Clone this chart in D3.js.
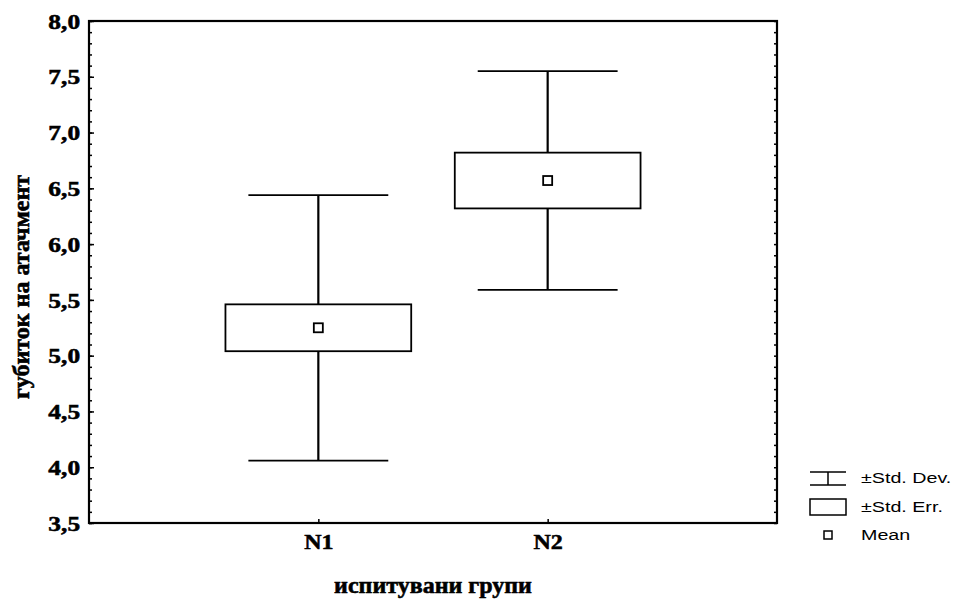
<!DOCTYPE html>
<html>
<head>
<meta charset="utf-8">
<script src="https://cdn.jsdelivr.net/npm/d3@7"></script>
<style>
  html, body { margin: 0; padding: 0; background: #fff; }
  svg { display: block; }
</style>
</head>
<body>
<svg id="chart" width="956" height="599"></svg>
<script>
// ---- data ----
const groups = ["N1", "N2"];
const groupPos = [1, 2];
const means = [5.25, 6.57];
const stdErr = [0.21, 0.25];
const stdDev = [1.19, 0.98];
const yTickValues = [3.5, 4.0, 4.5, 5.0, 5.5, 6.0, 6.5, 7.0, 7.5, 8.0];
const yTitle = "губиток на атачмент";
const xTitle = "испитувани групи";
const legendLabels = ["±Std. Dev.", "±Std. Err.", "Mean"];

// ---- layout ----
const L = 89, R = 777, T = 21, B = 523;
const SX = 1.27; // horizontal stretch of the scanned text
const svg = d3.select("#chart");
const x = d3.scaleLinear().domain([0, 3]).range([L, R]);
const y = d3.scaleLinear().domain([3.5, 8]).range([B, T]);
const fmt = d => d3.format(".1f")(d).replace(".", ",");
const minorVals = d3.range(35, 81).map(v => v / 10);

// minor ticks left (inward)
svg.append("g").attr("transform", `translate(${L},0)`)
  .call(d3.axisLeft(y).tickValues(minorVals).tickSize(-3).tickFormat(""))
  .call(g => g.select(".domain").remove())
  .call(g => g.selectAll("line").attr("stroke", "#000").attr("stroke-width", 1.5));
// minor ticks right (inward)
svg.append("g").attr("transform", `translate(${R},0)`)
  .call(d3.axisLeft(y).tickValues(minorVals).tickSize(3).tickFormat(""))
  .call(g => g.select(".domain").remove())
  .call(g => g.selectAll("line").attr("stroke", "#000").attr("stroke-width", 1.5));

// major left axis
const yAxis = svg.append("g").attr("transform", `translate(${L},0)`)
  .call(d3.axisLeft(y).tickValues(yTickValues).tickSizeInner(-5).tickSizeOuter(0).tickPadding(7).tickFormat(fmt));
yAxis.select(".domain").remove();
yAxis.selectAll("line").attr("stroke", "#000").attr("stroke-width", 1.5);
yAxis.selectAll("text")
  .attr("font-family", "'Liberation Serif', 'Times New Roman', serif")
  .attr("font-weight", "bold").attr("font-size", 20).attr("fill", "#000")
  .attr("stroke", "#000").attr("stroke-width", 0.5)
  .attr("dy", "0.36em")
  .attr("transform", `scale(${SX},1)`);

// bottom axis
const xAxis = svg.append("g").attr("transform", `translate(0,${B})`)
  .call(d3.axisBottom(x).tickValues(groupPos).tickSizeInner(-4).tickSizeOuter(0).tickPadding(12)
    .tickFormat((d, i) => groups[i]));
xAxis.select(".domain").remove();
xAxis.selectAll("line").attr("stroke", "#000").attr("stroke-width", 1.5);
xAxis.selectAll("text")
  .attr("font-family", "'Liberation Serif', 'Times New Roman', serif")
  .attr("font-weight", "bold").attr("font-size", 20).attr("fill", "#000")
  .attr("stroke", "#000").attr("stroke-width", 0.5)
  .attr("transform", `scale(1.2,1)`);

// frame
svg.append("rect").attr("x", L).attr("y", T).attr("width", R - L).attr("height", B - T)
  .attr("fill", "none").attr("stroke", "#000").attr("stroke-width", 2.2);

// boxes
const capHalf = 0.305, boxHalf = 0.405;
const gBox = svg.append("g");
groups.forEach((g, i) => {
  const cx = x(groupPos[i]);
  const m = means[i], se = stdErr[i], sd = stdDev[i];
  gBox.append("line").attr("x1", cx).attr("x2", cx).attr("y1", y(m + sd)).attr("y2", y(m - sd))
    .attr("stroke", "#000").attr("stroke-width", 2.2);
  [m + sd, m - sd].forEach(v => {
    gBox.append("line").attr("x1", x(groupPos[i] - capHalf)).attr("x2", x(groupPos[i] + capHalf))
      .attr("y1", y(v)).attr("y2", y(v)).attr("stroke", "#000").attr("stroke-width", 1.8);
  });
  gBox.append("rect").attr("x", x(groupPos[i] - boxHalf)).attr("y", y(m + se))
    .attr("width", x(groupPos[i] + boxHalf) - x(groupPos[i] - boxHalf))
    .attr("height", y(m - se) - y(m + se))
    .attr("fill", "#fff").attr("stroke", "#000").attr("stroke-width", 1.8);
  gBox.append("rect").attr("x", cx - 4.5).attr("y", y(m) - 4.5).attr("width", 9).attr("height", 9)
    .attr("fill", "#fff").attr("stroke", "#000").attr("stroke-width", 1.8);
});

// axis titles
svg.append("text")
  .attr("transform", `translate(29,287) rotate(-90)`)
  .attr("text-anchor", "middle")
  .attr("font-family", "'Liberation Serif', 'Times New Roman', serif")
  .attr("font-weight", "bold").attr("font-size", 24).attr("fill", "#000")
  .attr("stroke", "#000").attr("stroke-width", 0.6)
  .text(yTitle);
svg.append("text")
  .attr("transform", `translate(433,593)`)
  .attr("text-anchor", "middle")
  .attr("font-family", "'Liberation Serif', 'Times New Roman', serif")
  .attr("font-weight", "bold").attr("font-size", 24).attr("fill", "#000")
  .attr("stroke", "#000").attr("stroke-width", 0.6)
  .text(xTitle);

// legend
const lg = svg.append("g");
const lx0 = 810, lx1 = 846;
const rowsY = [478, 507, 535];
// std dev icon
lg.append("line").attr("x1", lx0).attr("x2", lx1).attr("y1", rowsY[0] - 6).attr("y2", rowsY[0] - 6).attr("stroke", "#000").attr("stroke-width", 1.5);
lg.append("line").attr("x1", lx0).attr("x2", lx1).attr("y1", rowsY[0] + 7).attr("y2", rowsY[0] + 7).attr("stroke", "#000").attr("stroke-width", 1.5);
lg.append("line").attr("x1", 828).attr("x2", 828).attr("y1", rowsY[0] - 6).attr("y2", rowsY[0] + 7).attr("stroke", "#000").attr("stroke-width", 1.5);
// std err icon
lg.append("rect").attr("x", lx0).attr("y", rowsY[1] - 8).attr("width", lx1 - lx0).attr("height", 16)
  .attr("fill", "#fff").attr("stroke", "#000").attr("stroke-width", 1.5);
// mean icon
lg.append("rect").attr("x", 824).attr("y", rowsY[2] - 4).attr("width", 8).attr("height", 8)
  .attr("fill", "#fff").attr("stroke", "#000").attr("stroke-width", 1.5);
legendLabels.forEach((t, i) => {
  lg.append("text")
    .attr("transform", `translate(861,${rowsY[i] + 5}) scale(${SX},1)`)
    .attr("font-family", "'Liberation Sans', Arial, sans-serif")
    .attr("font-size", 15.5).attr("fill", "#000")
    .text(t);
});
</script>
</body>
</html>
